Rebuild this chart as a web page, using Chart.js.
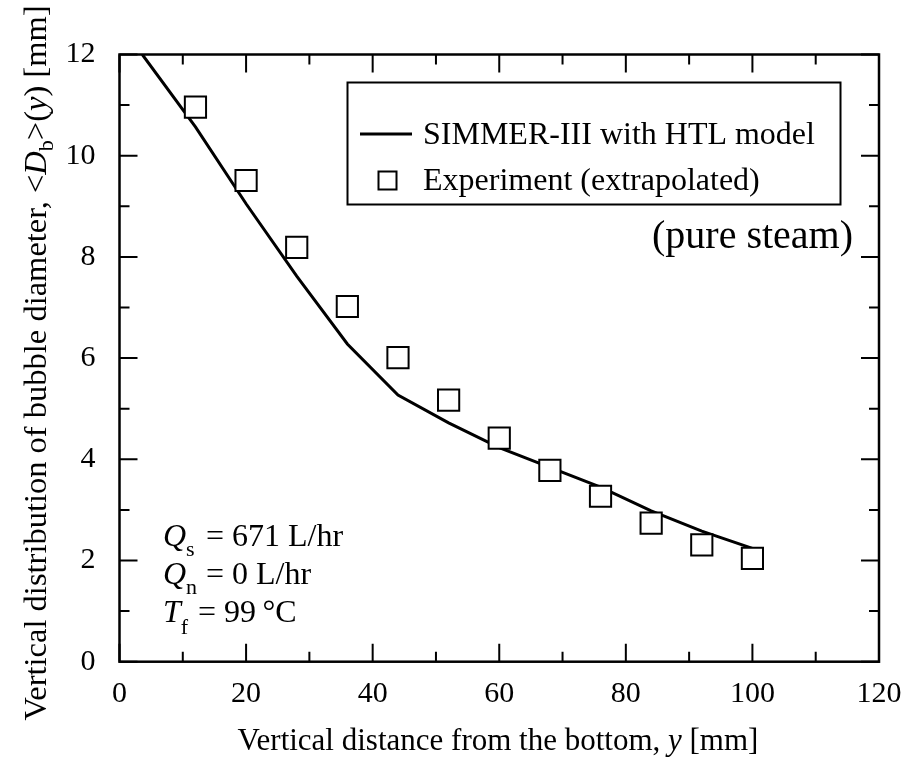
<!DOCTYPE html>
<html>
<head>
<meta charset="utf-8">
<script src="https://cdn.jsdelivr.net/npm/chart.js@4.4.1/dist/chart.umd.min.js"></script>
<style>
  html, body { margin: 0; padding: 0; background: #fff; }
  #wrap { width: 904px; height: 767px; position: relative; }
</style>
</head>
<body>
<div id="wrap"><canvas id="chart"></canvas></div>
<script>
// SIMMER-III with HTL model (solid line)
const simX = [3.6, 12, 20, 28, 36, 44, 52, 60, 68, 76, 84, 92, 100];
const simY = [12.0, 10.57, 9.05, 7.62, 6.28, 5.27, 4.72, 4.23, 3.84, 3.45, 2.98, 2.58, 2.24];

// experiment, extrapolated (open squares)
const expX = [12, 20, 28, 36, 44, 52, 60, 68, 76, 84, 92, 100];
const expY = [10.96, 9.51, 8.19, 7.02, 6.01, 5.17, 4.42, 3.78, 3.27, 2.74, 2.31, 2.04];

const xTicks = [0, 20, 40, 60, 80, 100, 120];
const yTicks = [0, 2, 4, 6, 8, 10, 12];

const SERIF = "'Liberation Serif', 'Times New Roman', serif";
const font = (size, italic) => `${italic ? 'italic ' : ''}${size}px ${SERIF}`;

// runs: [text, size, italic, dy]
const drawRuns = (ctx, runs, x, y) => {
  let cx = x;
  runs.forEach(([text, size, italic, dy]) => {
    ctx.font = font(size, italic);
    ctx.fillText(text, cx, y + (dy || 0));
    cx += ctx.measureText(text).width;
  });
};
const runsWidth = (ctx, runs) => runs.reduce((w, [text, size, italic]) => {
  ctx.font = font(size, italic);
  return w + ctx.measureText(text).width;
}, 0);

// frame with inward ticks on all four sides
const framePlugin = {
  id: 'frame',
  afterDatasetsDraw(chart) {
    const { ctx, chartArea: a, scales: { x, y } } = chart;
    ctx.save();
    ctx.strokeStyle = '#000';
    ctx.lineWidth = 2;
    ctx.beginPath();
    for (let v = 0; v <= 120; v += 10) {
      const px = x.getPixelForValue(v);
      const len = v % 20 === 0 ? 18 : 10;
      ctx.moveTo(px, a.bottom); ctx.lineTo(px, a.bottom - len);
      ctx.moveTo(px, a.top); ctx.lineTo(px, a.top + len);
    }
    for (let v = 0; v <= 12; v += 1) {
      const py = y.getPixelForValue(v);
      const len = v % 2 === 0 ? 18 : 10;
      ctx.moveTo(a.left, py); ctx.lineTo(a.left + len, py);
      ctx.moveTo(a.right, py); ctx.lineTo(a.right - len, py);
    }
    ctx.stroke();
    ctx.lineWidth = 2.5;
    ctx.strokeRect(a.left, a.top, a.right - a.left, a.bottom - a.top);
    ctx.restore();
  }
};

// legend box, axis titles and notes
const textPlugin = {
  id: 'texts',
  afterDraw(chart) {
    const { ctx } = chart;
    const [sim, exp] = chart.data.datasets;
    ctx.save();
    ctx.fillStyle = '#000';
    ctx.strokeStyle = '#000';
    ctx.textBaseline = 'alphabetic';
    ctx.textAlign = 'left';

    // legend
    ctx.lineWidth = 2;
    ctx.strokeRect(347.5, 82.5, 493, 122);
    ctx.lineWidth = sim.borderWidth;
    ctx.beginPath();
    ctx.moveTo(360, 134); ctx.lineTo(412, 134);
    ctx.stroke();
    ctx.lineWidth = exp.borderWidth;
    ctx.strokeRect(378.5, 171.5, 18, 18);
    ctx.font = font(32);
    ctx.fillText(sim.label, 423, 144);
    ctx.fillText(exp.label, 423, 190);

    ctx.textAlign = 'right';
    ctx.font = font(40);
    ctx.fillText('(pure steam)', 853, 248);
    ctx.textAlign = 'left';

    // conditions
    drawRuns(ctx, [['Q', 32, true], ['s', 22, false, 10]], 163, 546);
    drawRuns(ctx, [['= 671 L/hr', 32]], 206, 546);
    drawRuns(ctx, [['Q', 32, true], ['n', 22, false, 10]], 163, 584);
    drawRuns(ctx, [['= 0 L/hr', 32]], 206, 584);
    drawRuns(ctx, [['T', 32, true], ['f', 22, false, 12]], 163, 622);
    drawRuns(ctx, [['= 99\u2009\u00b0C', 32]], 198, 622);

    // x title
    const xRuns = [['Vertical distance from the bottom, ', 31], ['y', 31, true], [' [mm]', 31]];
    drawRuns(ctx, xRuns, 498 - runsWidth(ctx, xRuns) / 2, 750);

    // y title
    const yRuns = [['Vertical distribution of bubble diameter, <', 32.5], ['D', 32.5, true],
      ['b', 22, false, 7], ['>(', 32.5], ['y', 32.5, true], [') [mm]', 32.5]];
    ctx.translate(46, 363);
    ctx.rotate(-Math.PI / 2);
    drawRuns(ctx, yRuns, -runsWidth(ctx, yRuns) / 2, 0);
    ctx.restore();
  }
};

const tickFont = { family: SERIF, size: 30, lineHeight: 1.2 };

new Chart(document.getElementById('chart'), {
  type: 'scatter',
  data: {
    datasets: [
      {
        label: 'SIMMER-III with HTL model',
        data: simX.map((x, i) => ({ x, y: simY[i] })),
        showLine: true,
        borderColor: '#000',
        borderWidth: 3,
        pointRadius: 0,
        tension: 0,
        fill: false,
        order: 1
      },
      {
        label: 'Experiment (extrapolated)',
        data: expX.map((x, i) => ({ x, y: expY[i] })),
        pointStyle: 'rect',
        pointRadius: 15,
        borderColor: '#000',
        backgroundColor: '#fff',
        borderWidth: 2,
        order: 0
      }
    ]
  },
  options: {
    responsive: true,
    maintainAspectRatio: false,
    animation: false,
    devicePixelRatio: 1,
    layout: { padding: { left: 0, top: 54.5, right: 25, bottom: 0 } },
    plugins: { legend: { display: false }, tooltip: { enabled: false } },
    scales: {
      x: {
        type: 'linear', min: 0, max: 120,
        afterBuildTicks: s => { s.ticks = xTicks.map(value => ({ value })); },
        afterFit: s => { s.height = 105.3; s.paddingLeft = 0; s.paddingRight = 0; },
        grid: { display: false, drawTicks: false },
        border: { display: false },
        ticks: { color: '#000', font: tickFont, padding: 14, maxRotation: 0 }
      },
      y: {
        type: 'linear', min: 0, max: 12,
        afterBuildTicks: s => { s.ticks = yTicks.map(value => ({ value })); },
        afterFit: s => { s.width = 119.5; s.paddingTop = 0; s.paddingBottom = 0; },
        grid: { display: false, drawTicks: false },
        border: { display: false },
        ticks: { color: '#000', font: tickFont, padding: 24 }
      }
    }
  },
  plugins: [framePlugin, textPlugin]
});
</script>
</body>
</html>
